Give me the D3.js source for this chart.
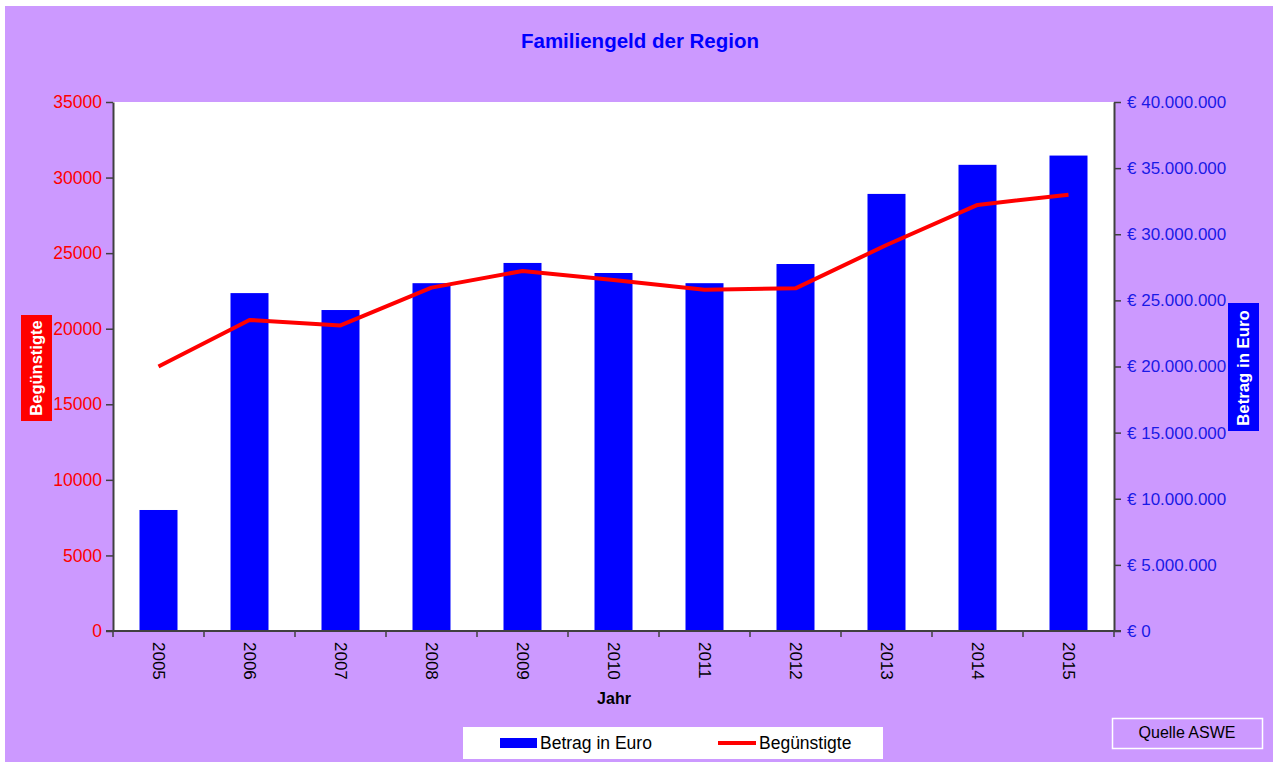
<!DOCTYPE html>
<html><head><meta charset="utf-8">
<script src="https://cdn.jsdelivr.net/npm/d3@7"></script>
<style>html,body{margin:0;padding:0;background:#fff;}svg{display:block;font-family:"Liberation Sans",Arial,sans-serif;}</style>
</head><body>
<svg id="c" width="1273" height="762"></svg>
<script>
const years = ["2005","2006","2007","2008","2009","2010","2011","2012","2013","2014","2015"];
const betrag = [9150000,25550000,24270000,26300000,27830000,27070000,26300000,27750000,33050000,35250000,35950000];
const beguenstigte = [17500,20580,20220,22720,23820,23220,22580,22670,25540,28190,28870];
const leftTicks = [0,5000,10000,15000,20000,25000,30000,35000];
const rightTicks = [0,5000000,10000000,15000000,20000000,25000000,30000000,35000000,40000000];

const svg = d3.select("#c");
svg.append("rect").attr("x",5).attr("y",6).attr("width",1268).attr("height",756).attr("fill","#CC99FF");

const m = {l:113, r:1114, t:102, b:631};
svg.append("rect").attr("x",m.l).attr("y",m.t).attr("width",m.r-m.l).attr("height",m.b-m.t).attr("fill","#fff");

const xc = d3.scaleBand().domain(years).range([m.l,m.r]);
const yL = d3.scaleLinear().domain([0,35000]).range([m.b,m.t]);
const yR = d3.scaleLinear().domain([0,40000000]).range([m.b,m.t]);

svg.append("text").attr("x",640).attr("y",48).attr("text-anchor","middle")
  .attr("font-size",20.5).attr("font-weight","bold").attr("fill","#0000FF").text("Familiengeld der Region");

// bars
svg.selectAll("rect.bar").data(years).enter().append("rect").attr("class","bar")
  .attr("x",(d)=>xc(d)+xc.bandwidth()/2-19).attr("width",38)
  .attr("y",(d,i)=>yR(betrag[i])).attr("height",(d,i)=>m.b-yR(betrag[i])).attr("fill","#0000FF");

// line
const line = d3.line().x((d,i)=>xc(years[i])+xc.bandwidth()/2).y(d=>yL(d));
svg.append("path").datum(beguenstigte).attr("d",line).attr("fill","none")
  .attr("stroke","#FF0000").attr("stroke-width",4).attr("stroke-linejoin","round");

// left axis
const fmtL = d3.format("d");
const axL = svg.append("g").attr("transform",`translate(${m.l},0)`)
  .call(d3.axisLeft(yL).tickValues(leftTicks).tickFormat(fmtL).tickSizeInner(7).tickSizeOuter(0).tickPadding(4));
axL.selectAll("text").attr("fill","#FF0000").attr("font-size",17.5).attr("font-family","Liberation Sans, Arial, sans-serif");
axL.selectAll("line").attr("stroke","#404040").attr("stroke-width",1.5);
axL.select(".domain").attr("stroke","#404040").attr("stroke-width",2);

// right axis
const fmtR = v => v===0 ? "€ 0" : "€ " + d3.format(",")(v).replace(/,/g,".");
const axR = svg.append("g").attr("transform",`translate(${m.r},0)`)
  .call(d3.axisRight(yR).tickValues(rightTicks).tickFormat(fmtR).tickSizeInner(7).tickSizeOuter(0).tickPadding(6));
axR.selectAll("text").attr("fill","#1A1AE6").attr("font-size",17).attr("font-family","Liberation Sans, Arial, sans-serif");
axR.selectAll("line").attr("stroke","#404040").attr("stroke-width",1.5);
axR.select(".domain").attr("stroke","#404040").attr("stroke-width",2);

// bottom axis
const bounds = years.map(d=>xc(d)).concat([m.r]);
const axB = svg.append("g");
axB.append("line").attr("x1",m.l-7).attr("x2",m.r+7).attr("y1",m.b).attr("y2",m.b).attr("stroke","#404040").attr("stroke-width",2);
axB.selectAll("line.t").data(bounds).enter().append("line").attr("class","t")
  .attr("x1",d=>d).attr("x2",d=>d).attr("y1",m.b).attr("y2",m.b+6).attr("stroke","#404040").attr("stroke-width",1.5);
axB.selectAll("text").data(years).enter().append("text")
  .attr("transform",d=>`translate(${xc(d)+xc.bandwidth()/2-6},${m.b+11}) rotate(90)`)
  .attr("font-size",17).attr("fill","#000").text(d=>d);

svg.append("text").attr("x",614).attr("y",704).attr("text-anchor","middle").attr("font-size",16).attr("font-weight","bold").text("Jahr");

// axis title boxes
svg.append("rect").attr("x",21).attr("y",315).attr("width",31).attr("height",106).attr("fill","#FF0000");
svg.append("text").attr("transform","translate(42,368) rotate(-90)").attr("text-anchor","middle")
  .attr("font-size",16.5).attr("font-weight","bold").attr("fill","#fff").text("Begünstigte");
svg.append("rect").attr("x",1228).attr("y",303).attr("width",31).attr("height",128).attr("fill","#0000FF");
svg.append("text").attr("transform","translate(1249,368) rotate(-90)").attr("text-anchor","middle")
  .attr("font-size",16.8).attr("font-weight","bold").attr("fill","#fff").text("Betrag in Euro");

// legend
svg.append("rect").attr("x",463).attr("y",727).attr("width",420).attr("height",32).attr("fill","#fff");
svg.append("rect").attr("x",500).attr("y",738).attr("width",37).attr("height",10).attr("fill","#0000FF");
svg.append("text").attr("x",540).attr("y",749).attr("font-size",17.5).text("Betrag in Euro");
svg.append("line").attr("x1",718).attr("x2",756).attr("y1",743).attr("y2",743).attr("stroke","#FF0000").attr("stroke-width",4);
svg.append("text").attr("x",759).attr("y",749).attr("font-size",17.5).text("Begünstigte");

// source box
svg.append("rect").attr("x",1112.5).attr("y",718.5).attr("width",150).attr("height",30).attr("fill","none").attr("stroke","#fff").attr("stroke-width",1.5);
svg.append("text").attr("x",1187).attr("y",738).attr("text-anchor","middle").attr("font-size",16).text("Quelle ASWE");
</script>
</body></html>
